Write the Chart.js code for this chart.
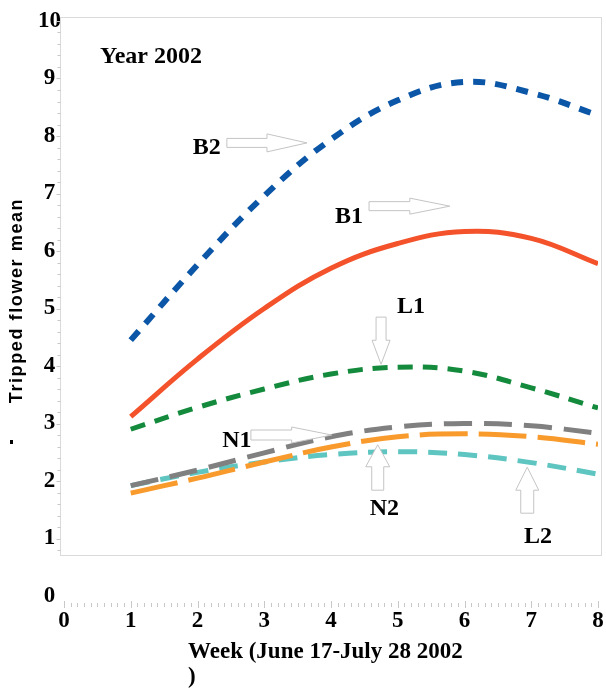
<!DOCTYPE html>
<html>
<head>
<meta charset="utf-8">
<script src="https://cdn.jsdelivr.net/npm/chart.js@4.4.0/dist/chart.umd.min.js"></script>
<style>
  body { margin: 0; background: #fff; }
  canvas { display: block; }
</style>
</head>
<body>
<canvas id="grafikBunga" width="606" height="688"></canvas>
<script>
const weeks = [1, 2, 3, 4, 5, 6, 7, 8];
const b2 = [4.45, 5.76, 6.96, 7.94, 8.62, 8.94, 8.75, 8.36];
const b1 = [3.12, 4.12, 5.00, 5.70, 6.13, 6.34, 6.22, 5.78];
const l1 = [2.90, 3.28, 3.60, 3.86, 3.98, 3.91, 3.62, 3.27];
const n1 = [1.92, 2.19, 2.49, 2.77, 2.94, 3.00, 2.96, 2.83];
const n2 = [1.79, 2.05, 2.33, 2.59, 2.77, 2.82, 2.77, 2.64];
const l2 = [1.92, 2.15, 2.33, 2.46, 2.51, 2.46, 2.32, 2.12];
const xTicks = [0, 1, 2, 3, 4, 5, 6, 7, 8];
const yTicks = [0, 1, 2, 3, 4, 5, 6, 7, 8, 9, 10];

const serif = '"Liberation Serif", "Times New Roman", serif';
const sans = '"Liberation Sans", Arial, sans-serif';

function toPoints(values) {
    return weeks.map((w, i) => ({ x: w, y: values[i] }));
}

function garis(label, values, color, dash, width) {
    return {
        label: label,
        data: toPoints(values),
        borderColor: color,
        borderWidth: width,
        borderDash: dash,
        borderCapStyle: 'butt',
        pointRadius: 0,
        tension: 0.4,
        fill: false
    };
}

// block arrow drawn as an outline
function panah(ctx, x0, y0, x1, y1, shaft, head, headLen) {
    const len = Math.hypot(x1 - x0, y1 - y0);
    const dx = (x1 - x0) / len, dy = (y1 - y0) / len;
    const nx = -dy, ny = dx;
    const bx = x1 - dx * headLen, by = y1 - dy * headLen;
    ctx.beginPath();
    ctx.moveTo(x0 + nx * shaft, y0 + ny * shaft);
    ctx.lineTo(bx + nx * shaft, by + ny * shaft);
    ctx.lineTo(bx + nx * head, by + ny * head);
    ctx.lineTo(x1, y1);
    ctx.lineTo(bx - nx * head, by - ny * head);
    ctx.lineTo(bx - nx * shaft, by - ny * shaft);
    ctx.lineTo(x0 - nx * shaft, y0 - ny * shaft);
    ctx.closePath();
    ctx.fillStyle = '#fff';
    ctx.fill();
    ctx.stroke();
}

const hiasan = {
    id: 'hiasan',
    beforeDatasetsDraw(chart) {
        const { ctx, scales: { x, y } } = chart;
        ctx.save();
        const left = Math.round(x.getPixelForValue(-0.06)) + 0.5;
        const right = Math.round(x.getPixelForValue(8.045)) + 0.5;
        const top = Math.round(y.getPixelForValue(10.07)) + 0.5;
        const bottom = Math.round(y.getPixelForValue(0.71)) + 0.5;
        ctx.strokeStyle = '#dadada';
        ctx.lineWidth = 1;
        ctx.strokeRect(left, top, right - left, bottom - top);

        // minor ticks on the y side of the box
        ctx.strokeStyle = '#c8c8c8';
        ctx.beginPath();
        for (let i = 4; i <= 50; i++) {
            const py = Math.round(y.getPixelForValue(i / 5)) + 0.5;
            const len = i % 5 === 0 ? 4 : 3;
            ctx.moveTo(left - len, py);
            ctx.lineTo(left, py);
        }
        ctx.stroke();

        // dotted x axis below zero
        const ay = Math.round(y.getPixelForValue(0)) + 9;
        ctx.beginPath();
        for (let i = 0; i <= 80; i++) {
            const px = Math.round(x.getPixelForValue(i / 10)) + 0.5;
            if (i % 10 === 0) {
                ctx.moveTo(px, ay - 4);
                ctx.lineTo(px, ay + 3);
            } else {
                ctx.moveTo(px, ay - 2);
                ctx.lineTo(px, ay + 2);
            }
        }
        ctx.stroke();
        ctx.restore();
    },
    afterDatasetsDraw(chart) {
        const { ctx, scales: { x, y } } = chart;
        const X = v => x.getPixelForValue(v);
        const Y = v => y.getPixelForValue(v);
        ctx.save();
        ctx.fillStyle = '#000';
        ctx.textBaseline = 'alphabetic';
        ctx.textAlign = 'left';
        ctx.font = 'bold 24px ' + serif;
        ctx.fillText('Year 2002', X(0.54), Y(9.27));
        ctx.fillText('B2', X(1.93), Y(7.69));
        ctx.fillText('B1', X(4.06), Y(6.49));
        ctx.fillText('L1', X(4.99), Y(4.92));
        ctx.fillText('N1', X(2.37), Y(2.59));
        ctx.fillText('N2', X(4.58), Y(1.41));
        ctx.fillText('L2', X(6.89), Y(0.92));

        ctx.strokeStyle = '#c4c4c4';
        ctx.lineWidth = 1;
        panah(ctx, X(2.44), Y(7.88), X(3.64), Y(7.88), 4.5, 9, 40);
        panah(ctx, X(4.57), Y(6.78), X(5.78), Y(6.78), 4.5, 8, 40);
        panah(ctx, X(4.75), Y(4.85), X(4.75), Y(4.03), 5, 9, 24);
        panah(ctx, X(2.80), Y(2.80), X(4.01), Y(2.80), 5, 8, 40);
        panah(ctx, X(4.70), Y(1.84), X(4.70), Y(2.63), 6, 12, 22);
        panah(ctx, X(6.94), Y(1.44), X(6.94), Y(2.24), 6.5, 11.5, 23);

        // axis titles
        ctx.fillStyle = '#000';
        ctx.font = 'bold 23px ' + serif;
        ctx.fillText('Week (June 17-July 28 2002', 188, 658);
        ctx.fillText(')', 188, 683);

        ctx.save();
        ctx.translate(17.5, 300.5);
        ctx.rotate(-Math.PI / 2);
        ctx.font = 'bold 18px ' + sans;
        ctx.letterSpacing = '1.6px';
        ctx.textAlign = 'center';
        ctx.textBaseline = 'middle';
        ctx.fillText('Tripped flower mean', 0, 0);
        ctx.restore();
        ctx.fillRect(10, 440, 3, 4);
        ctx.restore();
    }
};

const ctx = document.getElementById('grafikBunga').getContext('2d');
const chart = new Chart(ctx, {
    type: 'line',
    data: {
        datasets: [
            garis('B2', b2, '#0b56a7', [12, 10], 6),
            garis('B1', b1, '#f4522b', [], 5),
            garis('L1', l1, '#148a3c', [15, 10], 5),
            garis('N1', n1, '#808080', [28, 12], 5),
            garis('N2', n2, '#f89a2c', [48, 11], 5),
            garis('L2', l2, '#5ec5c1', [19, 11], 5)
        ]
    },
    options: {
        responsive: false,
        animation: false,
        layout: {
            padding: { top: 21, right: 8, left: 0, bottom: 0 }
        },
        plugins: {
            legend: { display: false },
            tooltip: { enabled: false }
        },
        scales: {
            x: {
                type: 'linear',
                min: 0,
                max: 8,
                grid: { display: false, drawTicks: false },
                border: { display: false },
                afterBuildTicks: s => { s.ticks = xTicks.map(v => ({ value: v })); },
                afterFit: s => {
                    s.height = 92;
                    s.paddingLeft = 0;
                    s.paddingRight = 0;
                },
                ticks: {
                    color: '#000',
                    padding: 11,
                    maxRotation: 0,
                    font: { family: serif, size: 23, weight: 'bold' }
                }
            },
            y: {
                min: 0,
                max: 10,
                grid: { display: false, drawTicks: false },
                border: { display: false },
                afterBuildTicks: s => { s.ticks = yTicks.map(v => ({ value: v })); },
                afterFit: s => {
                    s.width = 64;
                    s.paddingTop = 0;
                    s.paddingBottom = 0;
                },
                ticks: {
                    color: '#000',
                    padding: 3,
                    crossAlign: 'center',
                    font: { family: serif, size: 23, weight: 'bold' }
                }
            }
        }
    },
    plugins: [hiasan]
});
</script>
</body>
</html>
